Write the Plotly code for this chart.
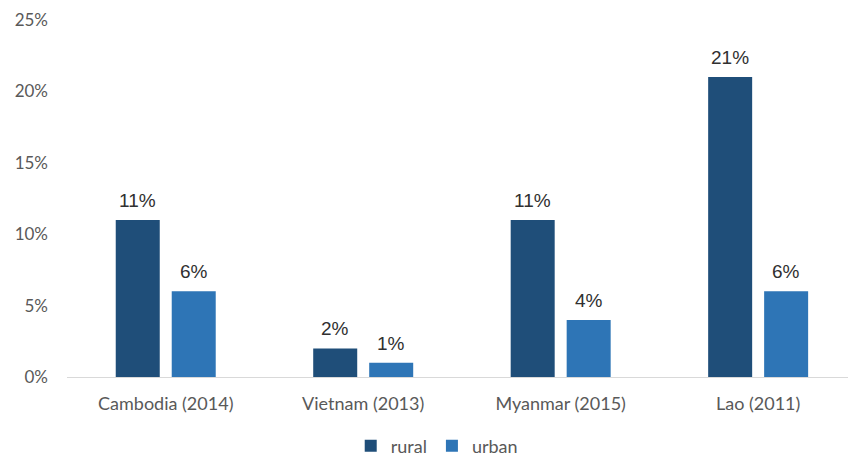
import plotly.graph_objects as go

categories = ["Cambodia (2014)", "Vietnam (2013)", "Myanmar (2015)", "Lao (2011)"]
rural = [11, 2, 11, 21]
urban = [6, 1, 4, 6]
y_ticks = [0, 5, 10, 15, 20, 25]
y_tick_labels = ["0%", "5%", "10%", "15%", "20%", "25%"]

label_font = dict(family="Liberation Sans, Arial", size=19, color="#303030")

fig = go.Figure()
fig.add_trace(go.Bar(
    name="rural", x=categories, y=rural,
    marker=dict(color="#1F4E79", line=dict(width=0)),
))
fig.add_trace(go.Bar(
    name="urban", x=categories, y=urban,
    marker=dict(color="#2E75B6", line=dict(width=0)),
))

for series, shift in ((rural, -28), (urban, 28)):
    for c, v in zip(categories, series):
        fig.add_annotation(x=c, y=v, text=f"{v}%", showarrow=False,
                           xshift=shift, yshift=7, yanchor="bottom",
                           font=label_font)

fig.update_layout(
    width=848, height=456,
    margin=dict(l=67, r=0, t=20, b=79, autoexpand=False),
    paper_bgcolor="white", plot_bgcolor="white",
    barmode="group", bargap=0.433, bargroupgap=0.214,
    font=dict(family="Lato, Open Sans, sans-serif", color="#595959", size=17),
    showlegend=True,
    legend=dict(orientation="h", x=0.515, xanchor="center", xref="container",
                y=10/456, yanchor="middle", yref="container",
                font=dict(size=18, color="#595959"), traceorder="normal",
                itemwidth=30),
)
fig.update_xaxes(
    range=[-0.5, 3.455], showline=True, linecolor="#D9D9D9", linewidth=1,
    showgrid=False, ticks="", tickfont=dict(size=18, color="#595959"), ticklabelstandoff=10,
)
fig.update_yaxes(
    range=[0, 25], tickvals=y_ticks, ticktext=y_tick_labels,
    showgrid=False, zeroline=False, showline=False, ticks="",
    tickfont=dict(size=17, color="#595959"), ticklabelstandoff=18,
)

fig.write_html("out.html", config={"displayModeBar": False},
               post_script="document.body.style.margin='0';document.body.style.overflow='hidden';")
